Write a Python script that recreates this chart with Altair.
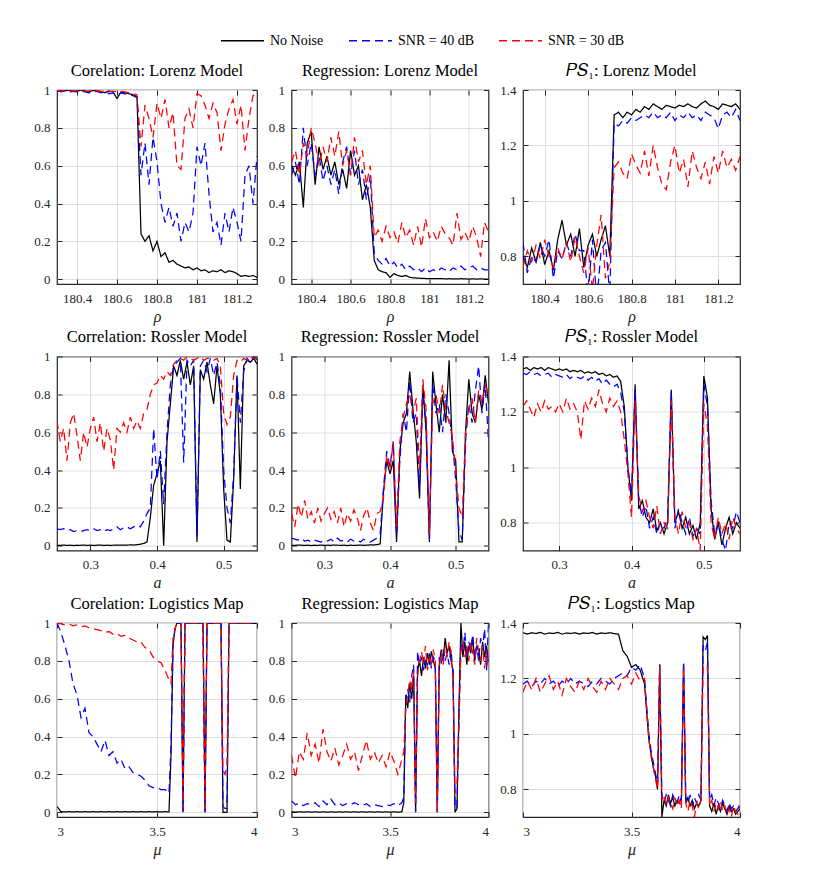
import altair as alt
import pandas as pd

FONT = "Liberation Serif"
SERIES = ["No Noise", "SNR = 40 dB", "SNR = 30 dB"]
COLORS = ["#000000", "#0000ff", "#ff0000"]
DASHES = [[1, 0], [8, 5], [8, 5]]

# ---------------- x grids ----------------
X_LOR = [180.30, 180.32, 180.34, 180.36, 180.38, 180.40, 180.42, 180.44, 180.46, 180.48,
         180.50, 180.52, 180.54, 180.56, 180.58, 180.60, 180.62, 180.64, 180.66, 180.68,
         180.70, 180.72, 180.74, 180.76, 180.78, 180.80, 180.82, 180.84, 180.86, 180.88,
         180.90, 180.92, 180.94, 180.96, 180.98, 181.00, 181.02, 181.04, 181.06, 181.08,
         181.10, 181.12, 181.14, 181.16, 181.18, 181.20, 181.22, 181.24, 181.26, 181.28,
         181.30]
X_ROS = [0.250, 0.255, 0.260, 0.265, 0.270, 0.275, 0.280, 0.285, 0.290, 0.295,
         0.300, 0.305, 0.310, 0.315, 0.320, 0.325, 0.330, 0.335, 0.340, 0.345,
         0.350, 0.355, 0.360, 0.365, 0.370, 0.375, 0.380, 0.385, 0.390, 0.395,
         0.400, 0.405, 0.410, 0.415, 0.420, 0.425, 0.430, 0.435, 0.440, 0.445,
         0.450, 0.455, 0.460, 0.465, 0.470, 0.475, 0.480, 0.485, 0.490, 0.495,
         0.500, 0.505, 0.510, 0.515, 0.520, 0.525, 0.530, 0.535, 0.540, 0.545,
         0.550]
X_LOG = [3.00, 3.02, 3.04, 3.06, 3.08, 3.10, 3.12, 3.14, 3.16, 3.18,
         3.20, 3.22, 3.24, 3.26, 3.28, 3.30, 3.32, 3.34, 3.36, 3.38,
         3.40, 3.42, 3.44, 3.46, 3.48, 3.50, 3.52, 3.54, 3.56,
         3.57, 3.58, 3.59, 3.60, 3.61, 3.62, 3.63, 3.64, 3.65, 3.66,
         3.67, 3.68, 3.69, 3.70, 3.71, 3.72, 3.73, 3.74, 3.75, 3.76,
         3.77, 3.78, 3.79, 3.80, 3.81, 3.82, 3.83, 3.84, 3.85, 3.86,
         3.87, 3.88, 3.89, 3.90, 3.91, 3.92, 3.93, 3.94, 3.95, 3.96,
         3.97, 3.98, 3.99, 4.00]

# ---------------- Lorenz ----------------
CORR_LOR_K = [1.0, 0.998, 0.995, 1.0, 0.996, 0.993, 1.0, 0.995, 0.99, 0.998,
              0.995, 0.99, 0.986, 0.995, 0.99, 0.955, 0.99, 0.985, 0.98, 0.975,
              0.965, 0.24, 0.2, 0.23, 0.15, 0.2, 0.12, 0.14, 0.09, 0.1,
              0.08, 0.07, 0.06, 0.065, 0.05, 0.06, 0.045, 0.05, 0.035, 0.045,
              0.04, 0.05, 0.035, 0.045, 0.04, 0.03, 0.015, 0.02, 0.015, 0.02,
              0.01]
CORR_LOR_B = [0.995, 0.99, 0.995, 0.99, 0.993, 0.99, 0.995, 0.99, 0.985, 0.99,
              0.993, 0.985, 0.99, 0.98, 0.985, 0.97, 0.985, 0.98, 0.975, 0.97,
              0.96, 0.55, 0.72, 0.5, 0.75, 0.62, 0.4, 0.3, 0.38, 0.28,
              0.35, 0.2, 0.3, 0.25, 0.35, 0.7, 0.6, 0.72, 0.45, 0.25,
              0.3, 0.18, 0.35, 0.25, 0.38, 0.3, 0.2, 0.55, 0.6, 0.4,
              0.65]
CORR_LOR_R = [0.998, 0.995, 0.998, 0.993, 0.997, 0.995, 0.998, 0.993, 0.996, 0.994,
              0.997, 0.993, 0.995, 0.99, 0.994, 0.99, 0.993, 0.99, 0.985, 0.98,
              0.975, 0.7, 0.92, 0.85, 0.75, 0.93, 0.85, 0.95, 0.8, 0.88,
              0.6, 0.58, 0.85, 0.9, 0.8, 0.98, 0.97, 0.92, 0.85, 0.93,
              0.88, 0.68, 0.82, 0.9, 0.95, 0.82, 0.92, 0.68, 0.85, 0.97,
              0.99]
REG_LOR_K = [0.6, 0.55, 0.62, 0.38, 0.72, 0.78, 0.5, 0.7, 0.58, 0.65,
             0.55, 0.62, 0.5, 0.58, 0.48, 0.68, 0.55, 0.6, 0.42, 0.5,
             0.38, 0.1, 0.05, 0.04, 0.035, 0.01, 0.03, 0.02, 0.015, 0.02,
             0.01, 0.008, 0.006, 0.005, 0.004, 0.004, 0.003, 0.003, 0.004, 0.002,
             0.003, 0.002, 0.002, 0.003, 0.002, 0.001, 0.002, 0.001, 0.002, 0.001,
             0.001]
REG_LOR_B = [0.55, 0.62, 0.5, 0.8, 0.6, 0.72, 0.55, 0.65, 0.52, 0.6,
             0.5, 0.58, 0.45, 0.62, 0.7, 0.55, 0.68, 0.5, 0.58, 0.42,
             0.55, 0.14, 0.1, 0.08, 0.11, 0.07, 0.09, 0.06, 0.08, 0.05,
             0.07, 0.05, 0.06, 0.04, 0.06, 0.04, 0.05, 0.04, 0.06, 0.05,
             0.04, 0.06, 0.05, 0.07, 0.05, 0.06, 0.07, 0.05, 0.06, 0.05,
             0.05]
REG_LOR_R = [0.62, 0.68, 0.55, 0.72, 0.65, 0.8, 0.72, 0.6, 0.7, 0.62,
             0.75, 0.65, 0.78, 0.6, 0.68, 0.55, 0.75, 0.62, 0.68, 0.5,
             0.6, 0.22, 0.26, 0.2, 0.28, 0.22, 0.25, 0.19, 0.3, 0.22,
             0.26, 0.18, 0.28, 0.17, 0.32, 0.22, 0.25, 0.2, 0.28, 0.24,
             0.22, 0.18, 0.35, 0.21, 0.25, 0.2, 0.28, 0.22, 0.12, 0.3,
             0.25]
PS_LOR_K = [0.8, 0.76, 0.83, 0.78, 0.85, 0.77, 0.82, 0.75, 0.86, 0.93,
            0.84, 0.88, 0.8, 0.9, 0.76, 0.84, 0.88, 0.8, 0.86, 0.91,
            0.8, 1.31, 1.32, 1.30, 1.32, 1.31, 1.33, 1.32, 1.34, 1.33,
            1.35, 1.34, 1.33, 1.345, 1.34, 1.335, 1.345, 1.34, 1.35, 1.34,
            1.335, 1.35, 1.36, 1.345, 1.34, 1.33, 1.35, 1.345, 1.34, 1.35,
            1.33]
PS_LOR_B = [0.85, 0.74, 0.8, 0.78, 0.84, 0.8, 0.86, 0.72, 0.82, 0.79,
            0.85, 0.8, 0.88, 0.82, 0.82, 0.66, 0.86, 0.64, 0.82, 0.85,
            0.66, 1.28, 1.27, 1.29, 1.28, 1.3, 1.29, 1.3, 1.31, 1.3,
            1.32, 1.3, 1.31, 1.3, 1.32, 1.29, 1.31, 1.3, 1.32, 1.3,
            1.31, 1.29, 1.32, 1.31, 1.3, 1.26, 1.31, 1.32, 1.3, 1.33,
            1.29]
PS_LOR_R = [0.76, 0.82, 0.78, 0.84, 0.79, 0.86, 0.8, 0.76, 0.83, 0.79,
            0.85, 0.78, 0.87, 0.8, 0.74, 0.83, 0.68, 0.84, 0.95, 0.72,
            0.78, 1.12, 1.14, 1.1, 1.08, 1.17, 1.13, 1.1, 1.18, 1.09,
            1.2, 1.12, 1.06, 1.04, 1.14, 1.2, 1.1, 1.15, 1.05, 1.18,
            1.12, 1.08, 1.14, 1.06, 1.16, 1.1, 1.18, 1.12, 1.15, 1.11,
            1.16]

# ---------------- Rossler ----------------
CORR_ROS_K = [0.003, 0.002, 0.004, 0.002, 0.003, 0.001, 0.003, 0.002, 0.004, 0.002,
              0.003, 0.002, 0.003, 0.004, 0.002, 0.003, 0.002, 0.003, 0.004, 0.003,
              0.004, 0.003, 0.005, 0.004, 0.006, 0.008, 0.012, 0.02, 0.15, 0.32,
              0.38, 0.45, 0.0, 0.55, 0.75, 0.95, 0.9, 0.98, 0.88, 0.97,
              0.85, 0.95, 0.02, 0.93, 0.88, 0.97, 0.85, 0.75, 0.95, 0.8,
              0.3, 0.03, 0.02, 0.35, 0.9, 0.3, 0.95, 0.98, 0.97, 0.99,
              0.96]
CORR_ROS_B = [0.09, 0.085, 0.09, 0.08, 0.085, 0.075, 0.08, 0.075, 0.08, 0.085,
              0.08, 0.09, 0.08, 0.085, 0.075, 0.085, 0.08, 0.09, 0.1, 0.085,
              0.095, 0.1, 0.09, 0.1, 0.11, 0.1, 0.13, 0.17, 0.2, 0.62,
              0.35, 0.5, 0.22, 0.6, 0.85, 0.95, 0.97, 0.99, 0.44, 0.98,
              0.95, 0.98, 0.05, 0.95, 0.98, 0.92, 0.99, 0.9, 0.97, 0.85,
              0.4, 0.2, 0.12, 0.38, 0.9, 0.65, 0.92, 0.99, 0.97, 1.0,
              0.98]
CORR_ROS_R = [0.66, 0.55, 0.62, 0.45, 0.65, 0.7, 0.58, 0.45, 0.6, 0.52,
              0.62, 0.68, 0.55, 0.65, 0.5, 0.62, 0.56, 0.4, 0.62, 0.6,
              0.65, 0.6, 0.68, 0.62, 0.66, 0.62, 0.7, 0.72, 0.8, 0.85,
              0.86, 0.9, 0.88, 0.92, 0.9, 0.96, 0.98, 0.99, 0.98, 1.0,
              0.99, 0.98, 0.99, 1.0, 0.98, 0.99, 0.99, 0.98, 0.99, 0.95,
              0.7, 0.64, 0.68, 0.9, 0.98, 0.97, 0.99, 0.98, 1.0, 0.99,
              0.99]
REG_ROS_K = [0.003, 0.002, 0.004, 0.003, 0.002, 0.003, 0.001, 0.003, 0.002, 0.004,
             0.002, 0.003, 0.002, 0.004, 0.003, 0.002, 0.003, 0.001, 0.003, 0.002,
             0.003, 0.004, 0.002, 0.003, 0.005, 0.004, 0.006, 0.01, 0.28, 0.45,
             0.38, 0.45, 0.02, 0.5, 0.65, 0.7, 0.92, 0.72, 0.55, 0.25,
             0.85, 0.6, 0.02, 0.92, 0.75, 0.6, 0.8, 0.65, 0.98, 0.5,
             0.45, 0.02, 0.02, 0.6, 0.88, 0.7, 0.65, 0.8, 0.72, 0.9,
             0.75]
REG_ROS_B = [0.04, 0.035, 0.03, 0.04, 0.025, 0.03, 0.02, 0.03, 0.025, 0.02,
             0.03, 0.025, 0.035, 0.02, 0.04, 0.025, 0.03, 0.02, 0.035, 0.025,
             0.03, 0.02, 0.035, 0.025, 0.02, 0.03, 0.04, 0.06, 0.3, 0.5,
             0.42, 0.55, 0.05, 0.45, 0.7, 0.6, 0.87, 0.65, 0.7, 0.3,
             0.8, 0.65, 0.03, 0.85, 0.7, 0.75, 0.6, 0.8, 0.7, 0.55,
             0.35, 0.08, 0.03, 0.55, 0.75, 0.65, 0.82, 0.95, 0.7, 0.85,
             0.55]
REG_ROS_R = [0.17, 0.1, 0.22, 0.15, 0.24, 0.14, 0.18, 0.12, 0.2, 0.13,
             0.17, 0.2, 0.14, 0.18, 0.12, 0.2, 0.1, 0.17, 0.13, 0.19,
             0.15, 0.08, 0.16, 0.2, 0.12, 0.08, 0.17, 0.18, 0.25, 0.48,
             0.4, 0.55, 0.1, 0.55, 0.68, 0.75, 0.8, 0.7, 0.78, 0.4,
             0.88, 0.72, 0.06, 0.75, 0.8, 0.7, 0.85, 0.72, 0.65, 0.58,
             0.4, 0.2, 0.15, 0.6, 0.72, 0.78, 0.65, 0.82, 0.75, 0.85,
             0.8]
PS_ROS_K = [1.355, 1.36, 1.35, 1.36, 1.355, 1.36, 1.35, 1.36, 1.355, 1.35,
            1.355, 1.35, 1.355, 1.345, 1.35, 1.345, 1.35, 1.34, 1.345, 1.34,
            1.345, 1.335, 1.34, 1.33, 1.335, 1.325, 1.33, 1.31, 1.22, 1.0,
            0.88, 1.3, 0.85, 0.88, 0.82, 0.8, 0.85, 0.77, 0.8, 0.76,
            0.8, 1.28, 0.8, 0.84, 0.78, 0.82, 0.76, 0.79, 0.74, 0.8,
            1.33, 1.25, 0.85, 0.74, 0.8, 0.72, 0.78, 0.82, 0.76, 0.8,
            0.78]
PS_ROS_B = [1.34, 1.335, 1.345, 1.335, 1.34, 1.33, 1.335, 1.34, 1.325, 1.335,
            1.33, 1.325, 1.335, 1.32, 1.33, 1.325, 1.32, 1.33, 1.315, 1.325,
            1.31, 1.32, 1.3, 1.315, 1.3, 1.29, 1.3, 1.27, 1.2, 1.0,
            0.9, 1.28, 0.88, 0.82, 0.86, 0.78, 0.82, 0.76, 0.8, 0.78,
            0.82, 1.27, 0.78, 0.85, 0.8, 0.76, 0.82, 0.75, 0.78, 0.76,
            1.3, 1.22, 0.88, 0.76, 0.8, 0.74, 0.7, 0.8, 0.78, 0.84,
            0.8]
PS_ROS_R = [1.22, 1.24, 1.21, 1.18, 1.23, 1.2, 1.24, 1.21, 1.22, 1.2,
            1.23, 1.2, 1.25, 1.21, 1.23, 1.2, 1.1, 1.24, 1.21, 1.25,
            1.22, 1.28, 1.23, 1.2, 1.25, 1.22, 1.24, 1.2, 1.1, 0.98,
            0.82, 1.24, 0.9, 0.84, 0.88, 0.82, 0.78, 0.86, 0.76, 0.8,
            0.78, 1.24, 0.82, 0.76, 0.84, 0.78, 0.8, 0.74, 0.78, 0.7,
            1.23, 1.15, 0.8, 0.74, 0.82, 0.76, 0.8, 0.74, 0.82, 0.78,
            0.76]

# ---------------- Logistics ----------------
CORR_LOG_K = [0.03, 0.003, 0.002, 0.003, 0.002, 0.003, 0.002, 0.003, 0.002, 0.003,
              0.002, 0.003, 0.002, 0.003, 0.002, 0.003, 0.002, 0.003, 0.002, 0.003,
              0.002, 0.003, 0.002, 0.003, 0.002, 0.003, 0.002, 0.003, 0.002,
              0.3, 0.88, 0.97, 1.0, 1.0, 1.0, 0.0, 1.0, 1.0, 1.0,
              1.0, 1.0, 1.0, 1.0, 1.0, 1.0, 1.0, 0.0, 1.0, 1.0,
              1.0, 1.0, 1.0, 1.0, 1.0, 1.0, 0.0, 0.0, 0.0, 1.0,
              1.0, 1.0, 1.0, 1.0, 1.0, 1.0, 1.0, 1.0, 1.0, 1.0,
              1.0, 1.0, 1.0, 1.0]
CORR_LOG_B = [1.0, 0.95, 0.88, 0.8, 0.68, 0.62, 0.5, 0.55, 0.42, 0.4,
              0.36, 0.32, 0.38, 0.3, 0.32, 0.26, 0.28, 0.23, 0.24, 0.21,
              0.2, 0.19, 0.17, 0.14, 0.13, 0.13, 0.12, 0.12, 0.1,
              0.35, 0.88, 0.97, 1.0, 1.0, 1.0, 0.0, 1.0, 1.0, 1.0,
              1.0, 1.0, 1.0, 1.0, 1.0, 1.0, 1.0, 0.0, 1.0, 1.0,
              1.0, 1.0, 1.0, 1.0, 1.0, 1.0, 0.03, 0.02, 0.02, 1.0,
              1.0, 1.0, 1.0, 1.0, 1.0, 1.0, 1.0, 1.0, 1.0, 1.0,
              1.0, 1.0, 1.0, 1.0]
CORR_LOG_R = [1.0, 0.995, 0.99, 0.995, 0.985, 0.99, 0.98, 0.985, 0.975, 0.97,
              0.965, 0.96, 0.95, 0.955, 0.94, 0.945, 0.93, 0.935, 0.92, 0.91,
              0.9, 0.9, 0.87, 0.86, 0.82, 0.8, 0.79, 0.75, 0.7,
              0.68, 0.92, 0.97, 1.0, 1.0, 1.0, 0.02, 1.0, 1.0, 1.0,
              1.0, 1.0, 1.0, 1.0, 1.0, 1.0, 1.0, 0.02, 1.0, 1.0,
              1.0, 1.0, 1.0, 1.0, 1.0, 1.0, 0.22, 0.2, 0.25, 1.0,
              1.0, 1.0, 1.0, 1.0, 1.0, 1.0, 1.0, 1.0, 1.0, 1.0,
              1.0, 1.0, 1.0, 1.0]
REG_LOG_K = [0.002, 0.001, 0.002, 0.001, 0.002, 0.001, 0.002, 0.001, 0.002, 0.001,
             0.002, 0.001, 0.002, 0.001, 0.002, 0.001, 0.002, 0.001, 0.002, 0.001,
             0.002, 0.001, 0.002, 0.001, 0.002, 0.001, 0.002, 0.001, 0.002,
             0.05, 0.62, 0.55, 0.68, 0.6, 0.72, 0.0, 0.75, 0.8, 0.72,
             0.82, 0.76, 0.84, 0.78, 0.85, 0.8, 0.76, 0.0, 0.78, 0.86,
             0.8, 0.92, 0.84, 0.88, 0.8, 0.75, 0.0, 0.02, 0.55, 1.0,
             0.82, 0.9, 0.78, 0.88, 0.84, 0.92, 0.8, 0.88, 0.85, 0.78,
             0.9, 0.82, 0.88, 0.8]
REG_LOG_B = [0.06, 0.04, 0.05, 0.035, 0.045, 0.04, 0.05, 0.03, 0.06, 0.04,
             0.07, 0.04, 0.05, 0.035, 0.045, 0.04, 0.05, 0.04, 0.035, 0.045,
             0.03, 0.04, 0.035, 0.03, 0.04, 0.035, 0.045, 0.035, 0.05,
             0.08, 0.6, 0.65, 0.58, 0.72, 0.78, 0.0, 0.85, 0.78, 0.82,
             0.75, 0.8, 0.78, 0.84, 0.76, 0.82, 0.8, 0.0, 0.82, 0.78,
             0.86, 0.8, 0.84, 0.78, 0.86, 0.72, 0.03, 0.02, 0.5, 0.9,
             0.85, 0.95, 0.82, 0.9, 0.86, 0.94, 0.82, 0.88, 0.8, 0.92,
             0.86, 0.97, 0.75, 1.0]
REG_LOG_R = [0.3, 0.18, 0.32, 0.28, 0.42, 0.3, 0.36, 0.26, 0.44, 0.32,
             0.27, 0.34, 0.25, 0.3, 0.36, 0.28, 0.32, 0.22, 0.3, 0.38,
             0.28, 0.32, 0.26, 0.3, 0.24, 0.32, 0.27, 0.2, 0.28,
             0.32, 0.55, 0.62, 0.7, 0.65, 0.75, 0.05, 0.72, 0.8, 0.85,
             0.78, 0.88, 0.75, 0.82, 0.78, 0.86, 0.8, 0.0, 0.76, 0.85,
             0.78, 0.88, 0.82, 0.9, 0.84, 0.7, 0.1, 0.15, 0.45, 0.85,
             0.9, 0.82, 0.88, 0.8, 0.9, 0.84, 0.78, 0.92, 0.85, 0.8,
             0.88, 0.76, 0.85, 0.75]
PS_LOG_K = [1.365, 1.36, 1.365, 1.362, 1.366, 1.36, 1.364, 1.362, 1.366, 1.36,
            1.364, 1.362, 1.365, 1.36, 1.364, 1.362, 1.366, 1.36, 1.364, 1.362,
            1.365, 1.362, 1.36, 1.3, 1.28, 1.24, 1.25, 1.23, 1.18,
            1.08, 0.98, 0.93, 0.88, 0.85, 0.8, 1.25, 0.7, 0.76, 0.74,
            0.78, 0.75, 0.77, 0.74, 0.76, 0.75, 0.77, 1.25, 0.75, 0.77,
            0.74, 0.76, 0.73, 0.75, 0.74, 0.76, 1.35, 1.34, 1.355, 0.74,
            0.72, 0.75, 0.71, 0.74, 0.72, 0.75, 0.73, 0.71, 0.74, 0.72,
            0.73, 0.71, 0.72, 0.73]
PS_LOG_B = [1.18, 1.19, 1.17, 1.19, 1.18, 1.2, 1.18, 1.19, 1.17, 1.19,
            1.18, 1.2, 1.18, 1.19, 1.18, 1.17, 1.19, 1.18, 1.2, 1.19,
            1.18, 1.2, 1.21, 1.22, 1.21, 1.24, 1.23, 1.25, 1.2,
            1.1, 1.0, 0.94, 0.9, 0.86, 0.82, 1.25, 0.78, 0.75, 0.78,
            0.76, 0.74, 0.78, 0.76, 0.75, 0.78, 0.76, 1.26, 0.77, 0.75,
            0.78, 0.74, 0.77, 0.75, 0.78, 0.76, 1.32, 1.3, 1.33, 0.76,
            0.78, 0.74, 0.77, 0.75, 0.73, 0.76, 0.74, 0.72, 0.75, 0.73,
            0.74, 0.72, 0.73, 0.75]
PS_LOG_R = [1.15, 1.19, 1.16, 1.2, 1.15, 1.18, 1.21, 1.16, 1.19, 1.14,
            1.2, 1.17, 1.15, 1.19, 1.16, 1.2, 1.17, 1.15, 1.19, 1.16,
            1.2, 1.18, 1.16, 1.2, 1.21, 1.18, 1.22, 1.19, 1.2,
            1.08, 0.98, 0.92, 0.88, 0.84, 0.8, 1.24, 0.76, 0.78, 0.74,
            0.77, 0.75, 0.73, 0.77, 0.74, 0.76, 0.73, 1.24, 0.75, 0.72,
            0.76, 0.74, 0.7, 0.75, 0.73, 0.76, 1.24, 1.25, 1.24, 0.74,
            0.76, 0.72, 0.75, 0.73, 0.76, 0.72, 0.74, 0.71, 0.73, 0.7,
            0.74, 0.72, 0.71, 0.74]

# ---------------- axes ----------------
XT_LOR = [180.4, 180.6, 180.8, 181.0, 181.2]
XT_ROS = [0.3, 0.4, 0.5]
XT_LOG = [3, 3.5, 4]
YT_CORR = [0, 0.2, 0.4, 0.6, 0.8, 1]
YT_PS = [0.8, 1.0, 1.2, 1.4]
YD_CORR = [-0.025, 1]
YD_PS = [0.7, 1.4]

WIDTHS = [200, 197, 217]
HEIGHT = 194
INK = "#262626"

LEG = alt.Legend(
    title=None, orient="none", legendX=163, legendY=-72, direction="horizontal",
    symbolType="stroke", symbolSize=1849, symbolStrokeWidth=1.3,
    labelFont=FONT, labelFontSize=14, labelColor="black", labelOffset=5,
    columnPadding=22,
)


def axis_main(ticks, title, orient):
    return alt.Axis(
        orient=orient, values=ticks, format="~g", grid=True, gridColor="#dedede",
        gridWidth=1, domain=False, ticks=True, tickSize=5, tickColor=INK,
        offset=-5, labelPadding=7 if orient == "left" else 8,
        labelFont=FONT, labelFontSize=13, labelColor=INK,
        title=title, titleFont=FONT, titleFontSize=16, titleFontStyle="italic",
        titleFontWeight="normal", titleColor=INK, titlePadding=3,
    )


def axis_mirror(ticks, orient):
    return alt.Axis(
        orient=orient, values=ticks, grid=False, domain=False, labels=False,
        ticks=True, tickSize=5, tickColor=INK, offset=-5, title=None,
    )


def panel(xs, series, xdom, xticks, ydom, yticks, title, xtitle, width):
    xscale = alt.Scale(domain=xdom, nice=False, zero=False)
    yscale = alt.Scale(domain=ydom, nice=False, zero=False)
    layers = []
    for idx, ys in enumerate(series):
        df = pd.DataFrame({"x": xs, "y": ys, "s": SERIES[idx]})
        if idx == 0:
            xax = axis_main(xticks, xtitle, "bottom")
            yax = axis_main(yticks, None, "left")
        elif idx == 1:
            xax = axis_mirror(xticks, "top")
            yax = axis_mirror(yticks, "right")
        else:
            xax = None
            yax = None
        layer = alt.Chart(df).mark_line(clip=True, strokeWidth=1.25).encode(
            x=alt.X("x:Q", scale=xscale, axis=xax),
            y=alt.Y("y:Q", scale=yscale, axis=yax),
            color=alt.Color("s:N", scale=alt.Scale(domain=SERIES, range=COLORS), legend=LEG),
            strokeDash=alt.StrokeDash("s:N", scale=alt.Scale(domain=SERIES, range=DASHES), legend=LEG),
            order=alt.Order("x:Q"),
        )
        layers.append(layer)
    return alt.layer(*layers).resolve_axis(x="independent", y="independent").properties(
        width=width, height=HEIGHT,
        title=alt.TitleParams(text=title, frame="group", anchor="middle", offset=5,
                              font=FONT, fontSize=16.5, fontWeight="normal", color="black"),
    )


panels = [
    panel(X_LOR, [CORR_LOR_K, CORR_LOR_B, CORR_LOR_R], [180.3, 181.3], XT_LOR, YD_CORR, YT_CORR,
          "Corelation:  Lorenz Model", "ρ", WIDTHS[0]),
    panel(X_LOR, [REG_LOR_K, REG_LOR_B, REG_LOR_R], [180.3, 181.3], XT_LOR, YD_CORR, YT_CORR,
          "Regression:  Lorenz Model", "ρ", WIDTHS[1]),
    panel(X_LOR, [PS_LOR_K, PS_LOR_B, PS_LOR_R], [180.3, 181.3], XT_LOR, YD_PS, YT_PS,
          "𝑃𝑆₁:  Lorenz Model", "ρ", WIDTHS[2]),
    panel(X_ROS, [CORR_ROS_K, CORR_ROS_B, CORR_ROS_R], [0.25, 0.55], XT_ROS, YD_CORR, YT_CORR,
          "Correlation:  Rossler Model", "a", WIDTHS[0]),
    panel(X_ROS, [REG_ROS_K, REG_ROS_B, REG_ROS_R], [0.25, 0.55], XT_ROS, YD_CORR, YT_CORR,
          "Regression:  Rossler Model", "a", WIDTHS[1]),
    panel(X_ROS, [PS_ROS_K, PS_ROS_B, PS_ROS_R], [0.25, 0.55], XT_ROS, YD_PS, YT_PS,
          "𝑃𝑆₁:  Rossler Model", "a", WIDTHS[2]),
    panel(X_LOG, [CORR_LOG_K, CORR_LOG_B, CORR_LOG_R], [3, 4], XT_LOG, YD_CORR, YT_CORR,
          "Corelation:  Logistics Map", "μ", WIDTHS[0]),
    panel(X_LOG, [REG_LOG_K, REG_LOG_B, REG_LOG_R], [3, 4], XT_LOG, YD_CORR, YT_CORR,
          "Regression:  Logistics Map", "μ", WIDTHS[1]),
    panel(X_LOG, [PS_LOG_K, PS_LOG_B, PS_LOG_R], [3, 4], XT_LOG, YD_PS, YT_PS,
          "𝑃𝑆₁:  Logstics Map", "μ", WIDTHS[2]),
]

chart = alt.concat(
    *panels, columns=3, spacing={"row": 72.5, "column": 34.5}, bounds="flush", align="each",
).properties(
    padding={"left": 25, "top": 10, "right": 10, "bottom": 10},
    background="white",
).configure_view(
    stroke=INK, strokeWidth=1.2,
).configure_legend(
    labelFont=FONT,
)

chart.save("out.html", embed_options={"renderer": "svg", "actions": False})
